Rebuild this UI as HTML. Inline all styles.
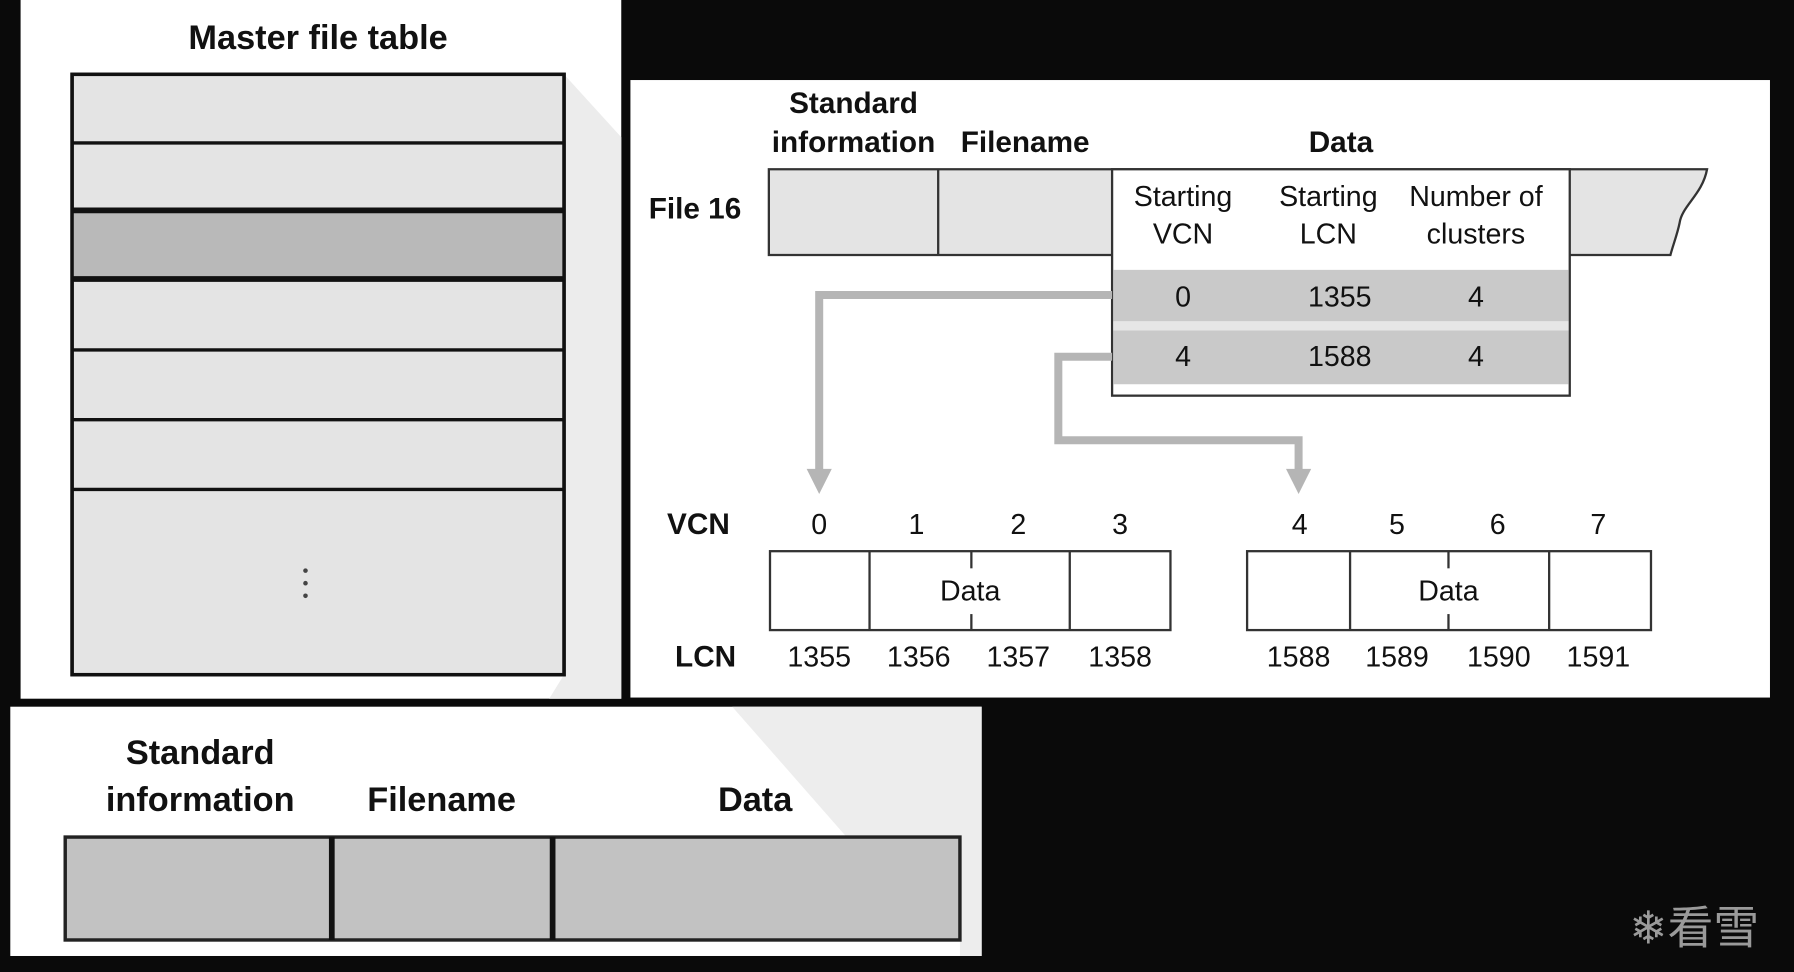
<!DOCTYPE html>
<html><head><meta charset="utf-8"><style>
html,body{margin:0;padding:0;background:#0a0a0a;width:1794px;height:972px;overflow:hidden}
svg{display:block}
text{font-family:"Liberation Sans","Noto Sans CJK SC",sans-serif;fill:#111}
.b{font-weight:bold}
</style></head><body>
<svg width="1794" height="972" viewBox="0 0 1568 850" preserveAspectRatio="none">
<rect x="0" y="0" width="1568" height="850" fill="#0a0a0a"/>
<!-- left panel -->
<rect x="18" y="0" width="525" height="611" fill="#fff"/>
<polygon points="493,65 543,120 543,611 480,611 493,590" fill="#ececec"/>
<text x="278" y="43" font-size="30" class="b" text-anchor="middle">Master file table</text>
<rect x="63" y="65" width="430" height="525" fill="#e4e4e4" stroke="#111" stroke-width="3"/>
<rect x="63" y="184" width="430" height="60" fill="#b9b9b9"/>
<g stroke="#111">
<line x1="63" y1="125" x2="493" y2="125" stroke-width="3"/>
<line x1="63" y1="184" x2="493" y2="184" stroke-width="5"/>
<line x1="63" y1="244" x2="493" y2="244" stroke-width="5"/>
<line x1="63" y1="306" x2="493" y2="306" stroke-width="3"/>
<line x1="63" y1="367" x2="493" y2="367" stroke-width="3"/>
<line x1="63" y1="428" x2="493" y2="428" stroke-width="3"/>
</g>
<rect x="63" y="65" width="430" height="525" fill="none" stroke="#111" stroke-width="3"/>
<g fill="#444"><circle cx="267" cy="499" r="2"/><circle cx="267" cy="510" r="2"/><circle cx="267" cy="521" r="2"/></g>
<!-- right panel -->
<rect x="551" y="70" width="996" height="540" fill="#fff"/>
<text x="746" y="99" font-size="26" class="b" text-anchor="middle">Standard</text>
<text x="746" y="133" font-size="26" class="b" text-anchor="middle">information</text>
<text x="896" y="133" font-size="26" class="b" text-anchor="middle">Filename</text>
<text x="1172" y="133" font-size="26" class="b" text-anchor="middle">Data</text>
<text x="567" y="191" font-size="26" class="b">File 16</text>
<path d="M672,148 H1492 C1488,170 1470,180 1468,195 C1466,205 1462,215 1460,223 H672 Z" fill="#e4e4e4" stroke="#333" stroke-width="2"/>
<line x1="820" y1="148" x2="820" y2="223" stroke="#333" stroke-width="2"/>
<rect x="972" y="148" width="400" height="198" fill="#fff" stroke="#333" stroke-width="2"/>
<rect x="973" y="236" width="398" height="45" fill="#c9c9c9"/>
<rect x="973" y="289" width="398" height="47" fill="#c9c9c9"/>
<rect x="973" y="281" width="398" height="8" fill="#e6e6e6"/>
<g font-size="25" text-anchor="middle">
<text x="1034" y="180">Starting</text><text x="1034" y="213">VCN</text>
<text x="1161" y="180">Starting</text><text x="1161" y="213">LCN</text>
<text x="1290" y="180">Number of</text><text x="1290" y="213">clusters</text>
<text x="1034" y="268">0</text><text x="1171" y="268">1355</text><text x="1290" y="268">4</text>
<text x="1034" y="320">4</text><text x="1171" y="320">1588</text><text x="1290" y="320">4</text>
</g>
<g fill="none" stroke="#b5b5b5" stroke-width="7">
<polyline points="972,258 716,258 716,412"/>
<polyline points="972,312 925,312 925,385 1135,385 1135,412"/>
</g>
<polygon points="705,410 727,410 716,432" fill="#b5b5b5"/>
<polygon points="1124,410 1146,410 1135,432" fill="#b5b5b5"/>
<text x="583" y="467" font-size="26" class="b">VCN</text>
<text x="590" y="583" font-size="26" class="b">LCN</text>
<g font-size="25" text-anchor="middle">
<text x="716" y="467">0</text><text x="801" y="467">1</text><text x="890" y="467">2</text><text x="979" y="467">3</text>
<text x="1136" y="467">4</text><text x="1221" y="467">5</text><text x="1309" y="467">6</text><text x="1397" y="467">7</text>
<text x="716" y="583">1355</text><text x="803" y="583">1356</text><text x="890" y="583">1357</text><text x="979" y="583">1358</text>
<text x="1135" y="583">1588</text><text x="1221" y="583">1589</text><text x="1310" y="583">1590</text><text x="1397" y="583">1591</text>
<text x="848" y="525">Data</text><text x="1266" y="525">Data</text>
</g>
<g fill="none" stroke="#333" stroke-width="2">
<rect x="673" y="482" width="350" height="69"/>
<line x1="760" y1="482" x2="760" y2="551"/><line x1="935" y1="482" x2="935" y2="551"/>
<line x1="849" y1="482" x2="849" y2="497"/><line x1="849" y1="537" x2="849" y2="551"/>
<rect x="1090" y="482" width="353" height="69"/>
<line x1="1180" y1="482" x2="1180" y2="551"/><line x1="1354" y1="482" x2="1354" y2="551"/>
<line x1="1266" y1="482" x2="1266" y2="497"/><line x1="1266" y1="537" x2="1266" y2="551"/>
</g>
<!-- bottom panel -->
<rect x="9" y="618" width="849" height="218" fill="#fff"/>
<polygon points="640,618 858,618 858,836 839,836 839,732 740,732" fill="#ededed"/>
<text x="175" y="668" font-size="30" class="b" text-anchor="middle">Standard</text>
<text x="175" y="709" font-size="30" class="b" text-anchor="middle">information</text>
<text x="386" y="709" font-size="30" class="b" text-anchor="middle">Filename</text>
<text x="660" y="709" font-size="30" class="b" text-anchor="middle">Data</text>
<rect x="57" y="732" width="782" height="90" fill="#c2c2c2" stroke="#222" stroke-width="3"/>
<line x1="290" y1="732" x2="290" y2="822" stroke="#111" stroke-width="5"/>
<line x1="483" y1="732" x2="483" y2="822" stroke="#111" stroke-width="5"/>
<!-- watermark -->
<text x="1424" y="825" font-size="40" style="fill:#9a9a9a">❄看雪</text>
</svg>
</body></html>
